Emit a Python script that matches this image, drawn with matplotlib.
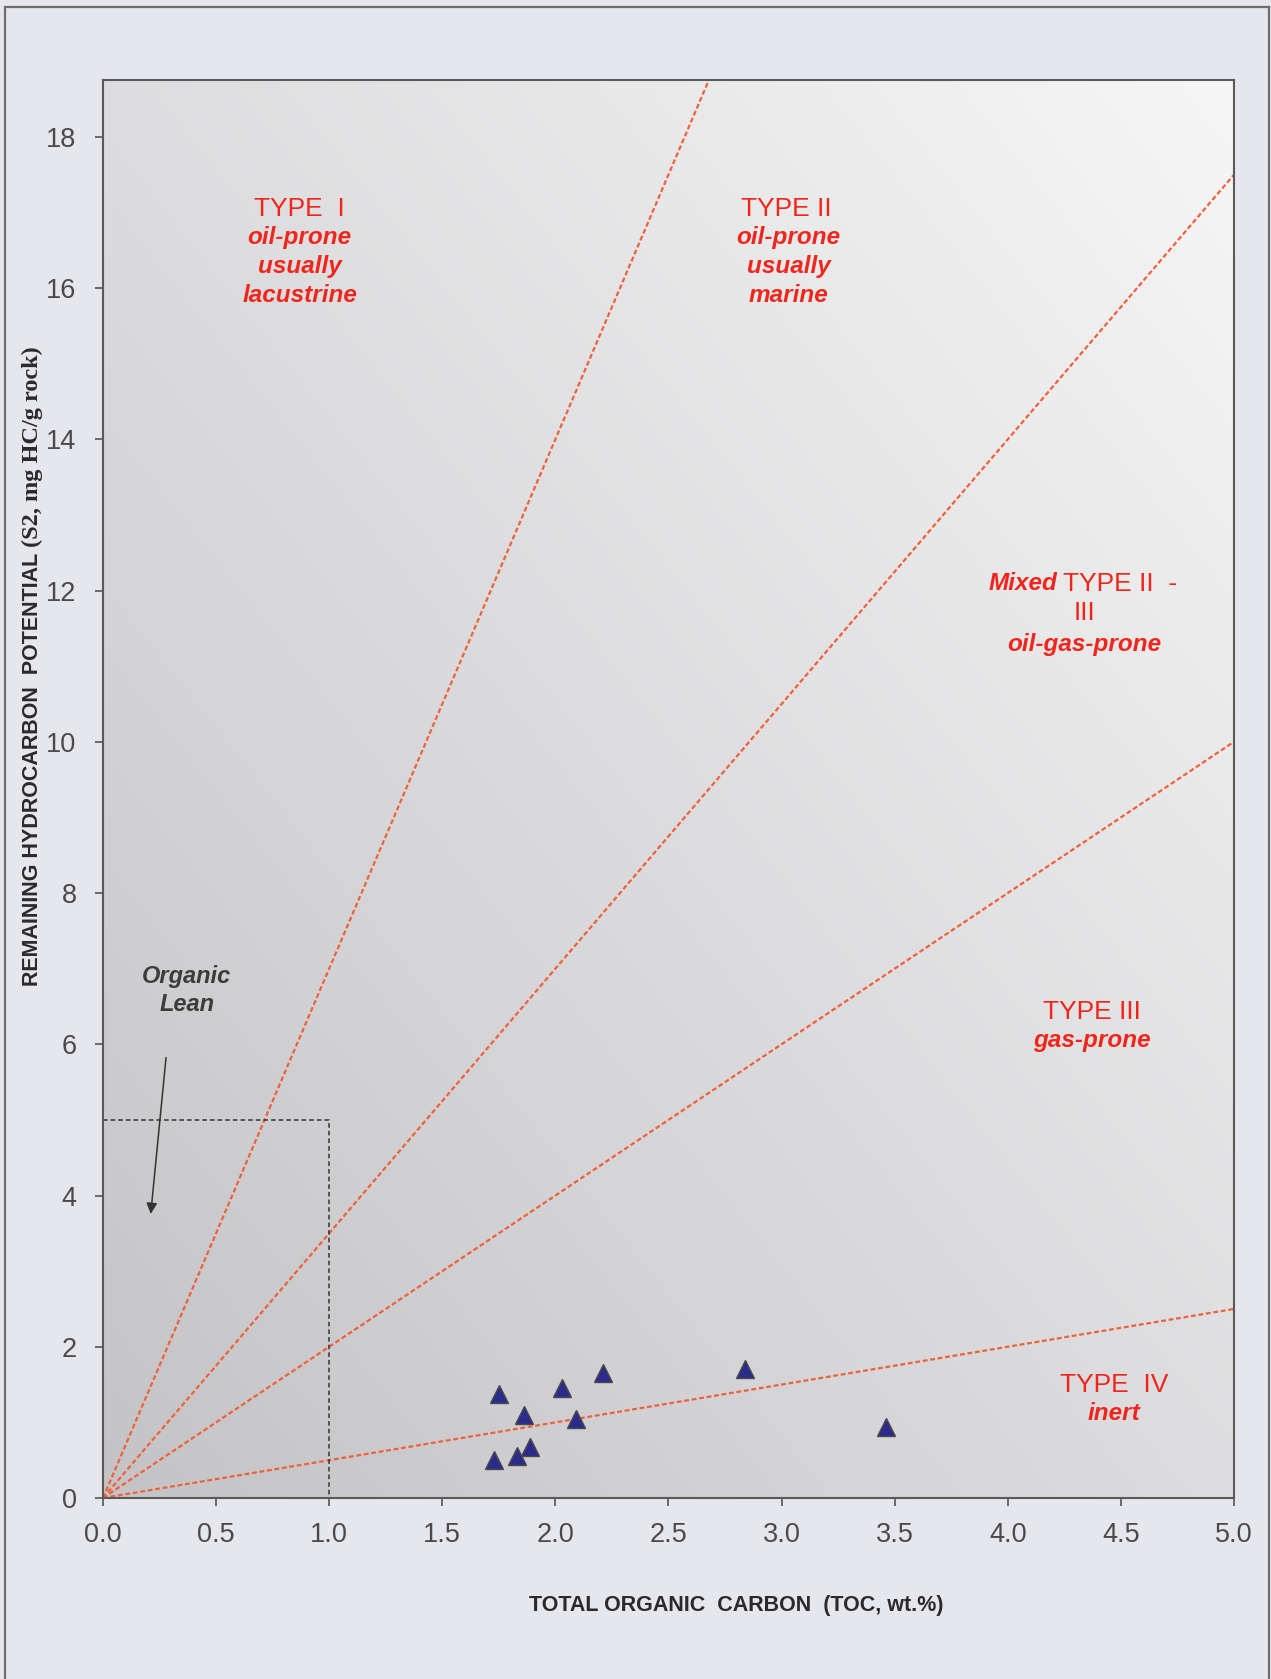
import numpy as np
import matplotlib.pyplot as plt
from matplotlib.colors import LinearSegmentedColormap
from matplotlib.lines import Line2D

plt.rcParams['font.family'] = ['Liberation Sans', 'DejaVu Sans']

# samples: TOC (wt.%) and S2 (mg HC/g rock)
toc = [1.75, 2.03, 2.21, 2.84, 1.86, 2.09, 3.46, 1.89, 1.83, 1.73]
s2 = [1.37, 1.45, 1.65, 1.70, 1.10, 1.05, 0.94, 0.68, 0.56, 0.50]

# kerogen boundaries as hydrogen index (mg HC/g TOC)
hi_lines = [700, 350, 200, 50]

x_ticks = [0.0, 0.5, 1.0, 1.5, 2.0, 2.5, 3.0, 3.5, 4.0, 4.5, 5.0]
y_ticks = [0, 2, 4, 6, 8, 10, 12, 14, 16, 18]

# organic-lean cutoff
lean_toc = 1.0
lean_s2 = 5.0

RED = '#f0251c'
LINE_RED = '#f0603c'

fig = plt.figure(figsize=(12.71, 16.79), dpi=100, facecolor='#e6e6ed')
ax = fig.add_axes([0.0810, 0.1078, 0.8899, 0.8445])

# diagonal grey gradient behind the plot
n = 200
u = np.linspace(0, 1, n)
grad = (u[None, :] + u[:, None]) / 2
cmap = LinearSegmentedColormap.from_list('bg', ['#c4c4c6', '#dddddf', '#f6f6f6'])
ax.imshow(grad, extent=[0, 1, 0, 1], transform=ax.transAxes, origin='lower',
          aspect='auto', cmap=cmap, zorder=0, interpolation='bilinear')

xx = np.array([0.0, 5.0])
for hi in hi_lines:
    ax.plot(xx, xx * hi / 100.0, color=LINE_RED, lw=1.6,
            linestyle=(0, (2.2, 1.2)), zorder=2)

ax.plot([0, lean_toc, lean_toc], [lean_s2, lean_s2, 0], color='#333333', lw=1.1,
        linestyle=(0, (3, 2)), zorder=2)

ax.plot(toc, s2, linestyle='none', marker='^', markersize=13,
        markerfacecolor='#2b2b8c', markeredgecolor='#4a4a4a', markeredgewidth=1.0,
        zorder=4)

ax.set_xlim(0, 5)
ax.set_ylim(0, 18.75)
ax.set_xticks(x_ticks)
ax.set_xticklabels(['%.1f' % v for v in x_ticks])
ax.set_yticks(y_ticks)
ax.set_yticklabels([str(v) for v in y_ticks])
ax.tick_params(axis='both', direction='out', length=6, width=1.2, color='#555555',
               labelsize=19.5, labelcolor='#4a4a4a')
ax.tick_params(axis='x', pad=11)
ax.tick_params(axis='y', pad=13)
for sp in ax.spines.values():
    sp.set_color('#5a5a5a')
    sp.set_linewidth(1.5)

# region labels
title_kw = dict(color=RED, fontsize=19, ha='center', va='center', zorder=5)
sub_kw = dict(color=RED, fontsize=17.5, fontweight='bold', style='italic',
              ha='center', va='center', zorder=5)

ax.text(0.87, 17.05, 'TYPE  I', **title_kw)
ax.text(0.87, 16.67, 'oil-prone', **sub_kw)
ax.text(0.87, 16.28, 'usually', **sub_kw)
ax.text(0.87, 15.90, 'lacustrine', **sub_kw)

ax.text(3.02, 17.05, 'TYPE II', **title_kw)
ax.text(3.03, 16.67, 'oil-prone', **sub_kw)
ax.text(3.03, 16.28, 'usually', **sub_kw)
ax.text(3.03, 15.90, 'marine', **sub_kw)

mixed_kw = dict(sub_kw)
mixed_kw['ha'] = 'right'
ax.text(4.22, 12.09, 'Mixed', **mixed_kw)
tII_kw = dict(title_kw)
tII_kw['ha'] = 'left'
ax.text(4.245, 12.09, 'TYPE II  -', **tII_kw)
ax.text(4.34, 11.70, 'III', **title_kw)
ax.text(4.34, 11.29, 'oil-gas-prone', **sub_kw)

ax.text(4.37, 6.43, 'TYPE III', **title_kw)
ax.text(4.37, 6.05, 'gas-prone', **sub_kw)

ax.text(4.47, 1.50, 'TYPE  IV', **title_kw)
ax.text(4.47, 1.12, 'inert', **sub_kw)

lean_kw = dict(color='#3c3c3c', fontsize=17, fontweight='bold', style='italic',
               ha='center', va='center', zorder=5)
ax.text(0.37, 6.90, 'Organic', **lean_kw)
ax.text(0.37, 6.52, 'Lean', **lean_kw)
ax.annotate('', xy=(0.21, 3.72), xytext=(0.28, 5.86),
            arrowprops=dict(arrowstyle='-|>', color='#333333', lw=1.1,
                            mutation_scale=16), zorder=5)

# axis titles
fig.text(0.579, 0.0435, 'TOTAL ORGANIC  CARBON  (TOC, wt.%)', fontsize=15.5,
         fontweight='bold', color='#2a2a2a', ha='center', va='center')
fig.text(0.0252, 0.6706, 'REMAINING HYDROCARBON  POTENTIAL', fontsize=15.5,
         fontweight='bold', color='#2a2a2a', rotation=90, ha='center', va='top')
fig.text(0.0252, 0.6740, '(S2, mg HC/g rock)', fontsize=17.5,
         family=['Liberation Serif', 'DejaVu Serif'], fontweight='bold',
         color='#2a2a2a', rotation=90, ha='center', va='bottom')

# outer frame (left, top, right)
frame_kw = dict(color='#6e6e6e', lw=1.6, transform=fig.transFigure)
fig.add_artist(Line2D([0.004, 0.004], [0.0, 0.9958], **frame_kw))
fig.add_artist(Line2D([0.004, 0.9984], [0.9958, 0.9958], **frame_kw))
fig.add_artist(Line2D([0.9984, 0.9984], [0.0, 0.9958], **frame_kw))

fig.savefig('out.png', dpi=100, facecolor=fig.get_facecolor())
